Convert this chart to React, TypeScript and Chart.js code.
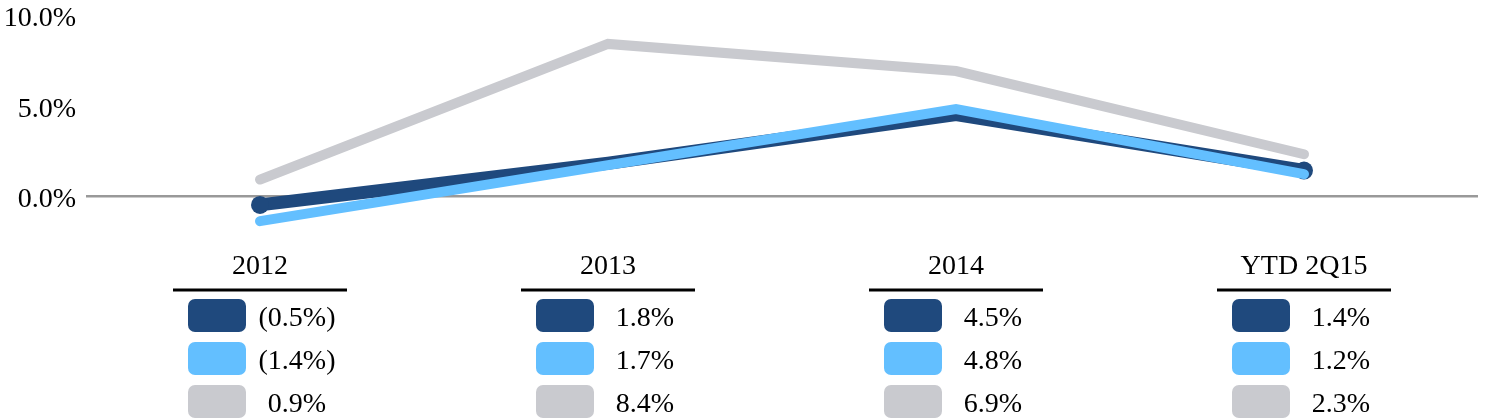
import { useEffect, useRef } from "react"
import { Chart, registerables } from "chart.js"
import type { Plugin } from "chart.js"

Chart.register(...registerables)

const categories = ["2012", "2013", "2014", "YTD 2Q15"]
const darkSeries = [-0.5, 1.8, 4.5, 1.4]
const lightSeries = [-1.4, 1.7, 4.8, 1.2]
const graySeries = [0.9, 8.4, 6.9, 2.3]
const yTicks = [10, 5, 0]

const DARK = "#1f497d"
const LIGHT = "#63bfff"
const GRAY = "#c9cacf"
const FONT = '"Liberation Serif", "Times New Roman", serif'

const fmt = (v: number) => (v < 0 ? `(${Math.abs(v).toFixed(1)}%)` : `${v.toFixed(1)}%`)

// value table under the plot, one column per category
const tablePlugin: Plugin<"line"> = {
  id: "valueTable",
  afterDraw(chart) {
    const { ctx } = chart
    const x = chart.scales.x
    const rows = [
      { color: DARK, values: darkSeries },
      { color: LIGHT, values: lightSeries },
      { color: GRAY, values: graySeries },
    ]
    ctx.save()
    ctx.font = `28px ${FONT}`
    ctx.textAlign = "center"
    ctx.textBaseline = "alphabetic"
    categories.forEach((cat, i) => {
      const cx = x.getPixelForValue(i)
      ctx.fillStyle = "#000"
      ctx.fillText(cat, cx, 274)
      ctx.fillRect(cx - 87, 288.5, 174, 3)
      rows.forEach((row, r) => {
        const cy = 315.5 + r * 43
        ctx.fillStyle = row.color
        ctx.beginPath()
        ctx.roundRect(cx - 72, cy - 16.5, 58, 33, 7)
        ctx.fill()
        ctx.fillStyle = "#000"
        ctx.fillText(fmt(row.values[i]), cx + 37, cy + 10.5)
      })
    })
    ctx.restore()
  },
}

export default function App() {
  const canvasRef = useRef<HTMLCanvasElement>(null)
  const chartRef = useRef<Chart | null>(null)

  useEffect(() => {
    if (!canvasRef.current) return
    const ctx = canvasRef.current.getContext("2d")
    if (!ctx) return

    chartRef.current = new Chart(ctx, {
      type: "line",
      data: {
        labels: categories,
        datasets: [
          {
            data: graySeries,
            borderColor: GRAY,
            borderWidth: 10,
            pointRadius: 0,
            borderCapStyle: "round",
            tension: 0,
          },
          {
            data: lightSeries,
            borderColor: LIGHT,
            borderWidth: 10,
            pointRadius: 0,
            borderCapStyle: "round",
            tension: 0,
          },
          {
            data: darkSeries,
            borderColor: DARK,
            borderWidth: 13,
            pointRadius: [9, 0, 0, 9],
            pointBackgroundColor: DARK,
            pointBorderWidth: 0,
            borderCapStyle: "round",
            tension: 0,
          },
        ],
      },
      options: {
        animation: false,
        responsive: true,
        maintainAspectRatio: false,
        layout: { padding: { top: 15, left: 4, right: 3, bottom: 188 } },
        plugins: {
          legend: { display: false },
          tooltip: { enabled: false },
        },
        scales: {
          x: { type: "category", display: false, offset: true },
          y: {
            min: -2,
            max: 10,
            afterBuildTicks: (axis) => {
              axis.ticks = yTicks.map((value) => ({ value }))
            },
            afterFit: (axis) => {
              axis.width = 82
              axis.paddingTop = 0
              axis.paddingBottom = 0
            },
            ticks: {
              font: { family: FONT, size: 28 },
              color: "#000",
              padding: 10,
              labelOffset: 4,
              callback: (v) => `${Number(v).toFixed(1)}%`,
            },
            grid: {
              color: (c) => (c.tick && c.tick.value === 0 ? "#999999" : "transparent"),
              lineWidth: 2.5,
              drawTicks: false,
            },
            border: { display: false },
          },
        },
      },
      plugins: [tablePlugin],
    })

    return () => {
      if (chartRef.current) {
        chartRef.current.destroy()
        chartRef.current = null
      }
    }
  }, [])

  return (
    <div style={{ position: "absolute", left: 0, top: 0, width: 1487, height: 420 }}>
      <canvas ref={canvasRef} />
    </div>
  )
}
